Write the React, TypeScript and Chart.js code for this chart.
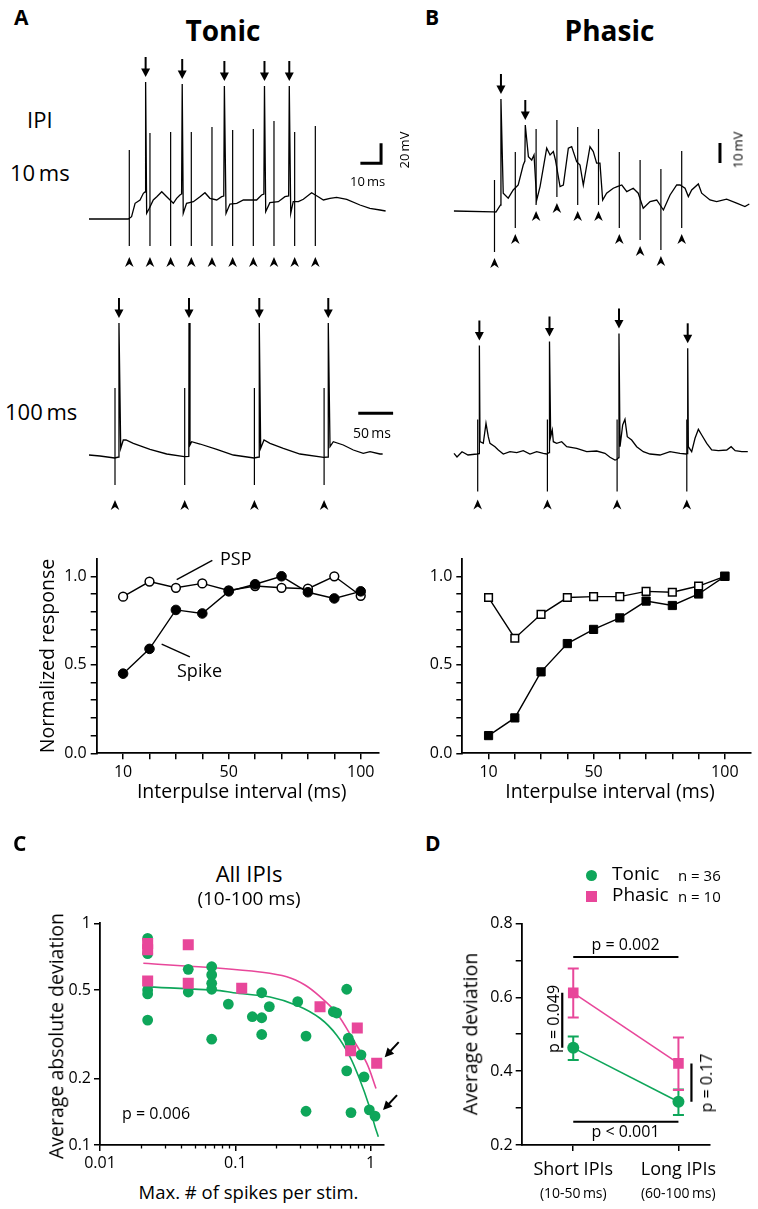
import React, { useEffect, useRef } from 'react';
import { Chart, registerables } from 'chart.js';

Chart.register(...registerables);

const FONT = '"Open Sans", "Noto Sans", sans-serif';
Chart.defaults.font.family = FONT;
Chart.defaults.color = '#000';
const GREEN = '#0ea65a';
const PINK = '#e8479a';

// ---------------- Panel A / B : example traces ----------------
// [time (ms, from first stimulus), potential (mV, from rest)]
const tonic10Trace = [
  [-19.5, 0], [-0.5, 0], [1.1, 2.3], [2.8, 15.7], [5.2, 19], [6.8, 25.7], [7.6, 27],
  [8.4, 5.7], [9.7, 10.7], [11.6, 19], [13.3, 22.3], [15.7, 27.3], [18.1, 22.3], [21.3, 15.7],
  [22.9, 20.7], [24.5, 24], [25.3, 25], [26.1, 5.7], [27.7, 15.7], [31, 17.3], [34.2, 22.3],
  [36.6, 26.3], [39, 20.7], [42.3, 19], [44.7, 22.3], [45.7, 23], [46.8, 5.7], [48.7, 15],
  [52, 15.7], [55.2, 19], [58, 19], [61.6, 19], [64, 24], [65.1, 25], [66, 7.3], [68, 16.3],
  [72.1, 17.3], [75.3, 22.3], [77.1, 23], [78.1, 5.7], [79.3, 17.3], [81.8, 17.3], [84.2, 19.7],
  [88.2, 26.3], [91.4, 22.3], [93.9, 19], [97.1, 20.7], [100.3, 21.7], [105.2, 19.7],
  [111.6, 14], [116.4, 10.7], [121.3, 9], [124, 8],
];
const tonic10Stim = [0, 10, 20, 30, 40, 50, 60, 70, 80, 90];
const tonic10ArtTop = [69, 86, 87, 87, 92, 89, 90, 98, 87, 93];
const tonic10ArtBottom = [-27, -27, -27, -27, -27, -27, -27, -27, -27, -27];
const tonic10SpikeT = [7.9, 25.6, 46.0, 65.4, 77.4];
const tonic10SpikePeak = [137, 135, 133, 133, 133];

const phasic10Trace = [
  [-19.5, 0], [-0.6, -0.4], [0.7, -0.5], [2.9, 3], [4.2, 8.9], [6.6, 6.4], [9, 10.5],
  [11.4, 13], [13.8, 23], [14.6, 25], [16.3, 27.2], [17.9, 25.5], [19, 28], [20.3, 5.5],
  [21.9, 12.2], [25.1, 31.4], [26.7, 28], [28.3, 29.7], [29.3, 25.5], [31.5, 12.2], [33.1, 13],
  [35.5, 31.4], [37.1, 32.2], [39.5, 24.7], [41.1, 23], [42.7, 13], [45.9, 32.2], [47.5, 29.7],
  [49.1, 23.9], [50.7, 23.9], [52, 5.5], [53.9, 8.9], [57.1, 11.4], [59, 12.2], [61.2, 13],
  [63.6, 9.7], [66.7, 11.4], [69.1, 8.9], [71.5, 1.4], [74.8, 4.7], [78, 5.5], [81.2, 0.5],
  [84.4, 8], [87.6, 13], [89.2, 13], [91.6, 11.4], [93.2, 7.2], [94.8, 10.5], [98, 13.5],
  [99.6, 8.9], [103.6, 5.5], [106.8, 4.7], [111.6, 5.9], [116.4, 3.9], [120.4, 2.2], [122.5, 3.5],
];
const phasic10Stim = [0, 10, 20, 30, 40, 50, 60, 70, 80, 90];
const phasic10ArtTop = [15.5, 29.5, 41, 45.5, 42, 41, 29.5, 25.5, 21, 30];
const phasic10ArtBottom = [-20.5, -8.5, 3, 7, 3, 3, -8.5, -14.5, -19.5, -8.5];
const phasic10SpikeT = [3.1, 14.8];
const phasic10SpikePeak = [56, 43];

const tonic100Trace = [
  [-37.3, 3], [-21.5, 2], [-0.5, 0], [5.4, 1], [8.2, 9.7], [11.9, 18], [15.8, 18], [26.3, 14.7],
  [50.2, 8.7], [74.2, 4], [99.4, 1.3], [105.9, 1.5], [107.6, 13], [110, 16.3], [122, 14],
  [146, 8.7], [169.7, 3], [199.5, 0], [206.7, 1], [209, 9.7], [213.8, 18], [222.4, 14.7],
  [241.5, 9.7], [265.4, 4], [299.5, 0.7], [305.7, 1], [308.5, 11.3], [313.2, 16.3], [327.5, 13],
  [341.9, 8], [356.2, 4.7], [365.9, 6.3], [380.2, 4], [384, 4],
];
const tonic100Stim = [0, 100, 200, 300];
const tonic100ArtTop = [70, 70, 70, 70];
const tonic100ArtBottom = [-27, -27, -27, -27];
const tonic100SpikeT = [5.7, 106.2, 207, 306];
const tonic100SpikePeak = [135, 135, 135, 135];

const phasic100Trace = [
  [-34, 0.1], [-29.7, -1.75], [-22.5, 0.9], [-13.9, -0.75], [-1, -0.25], [2.2, 0], [3.3, 5.9],
  [8, 5.1], [11.9, 15.1], [15.2, 8.4], [17.6, 5.1], [24.8, 3.4], [29.6, 1.75], [36.7, -0.25],
  [46.3, 0.9], [56, 0.4], [65.4, 1.4], [75, -0.25], [84.6, 0.9], [94.1, 0.1], [99, -0.25],
  [102.8, 0.5], [104.7, 8.4], [107, 11.75], [108.5, 5.9], [113.3, 5.1], [120.5, 5.9],
  [127.7, 3.4], [142, 2.6], [156.4, 0.9], [170.7, 1.25], [182.6, 0.1], [189.8, -1.9],
  [197, -3.25], [199.5, -3], [202.5, -2], [204.2, 3.4], [208, 14.25], [211.3, 17.1],
  [214.6, 8.4], [220.9, 6.75], [228.1, 3.4], [237.6, 0.9], [247.2, -0.25], [261.5, -0.75],
  [275.9, 0.9], [290.2, 0.1], [299, -0.25], [301.1, 0], [302.2, 3.4], [307, 0.9], [311.8, 7.6],
  [316.6, 12.1], [321.4, 9.25], [328.6, 5.1], [335.7, 1.75], [345.3, 1.4], [357.3, 1.75],
  [363.6, 3.4], [369.4, 1.4], [378.9, 0.9], [387.5, 0.9],
];
const phasic100Stim = [0, 100, 200, 300];
const phasic100ArtTop = [17, 17, 17, 17];
const phasic100ArtBottom = [-19, -19, -19, -19];
const phasic100SpikeT = [2.4, 103, 202.7, 301.3];
const phasic100SpikePeak = [54, 56, 60, 52.6];

// ---------------- Normalized response vs interpulse interval ----------------
const ipi = [10, 20, 30, 40, 50, 60, 70, 80, 90, 100];
const ipiTicks = [10, 20, 30, 40, 50, 60, 70, 80, 90, 100];
const ipiLabels = [10, 50, 100];
const tonicSpike = [0.45, 0.59, 0.81, 0.79, 0.915, 0.955, 1.0, 0.91, 0.875, 0.915];
const tonicPSP = [0.885, 0.97, 0.935, 0.96, 0.92, 0.945, 0.935, 0.93, 1.0, 0.89];
const phasicSpike = [0.1, 0.2, 0.46, 0.62, 0.7, 0.765, 0.86, 0.835, 0.9, 1.0];
const phasicPSP = [0.88, 0.65, 0.785, 0.88, 0.885, 0.885, 0.915, 0.91, 0.945, 1.0];
const normTicks = [0, 0.1, 0.2, 0.3, 0.4, 0.5, 0.6, 0.7, 0.8, 0.9, 1.0];
const normLabels = [0, 0.5, 1.0];

// ---------------- Panel C ----------------
const tonicMaxSpikes = [
  0.0225, 0.0225, 0.0225, 0.0225, 0.0225, 0.0449, 0.0449, 0.0669, 0.0669, 0.0669, 0.0669, 0.0669,
  0.0888, 0.1336, 0.1567, 0.1567, 0.1567, 0.1784, 0.2892, 0.3331, 0.3331, 0.53, 0.5616,
  0.6658, 0.684, 0.704, 0.6658, 0.716, 0.849, 0.894, 0.978, 1.078,
];
const tonicAvgDev = [
  0.855, 0.73, 0.5, 0.48, 0.366, 0.62, 0.49, 0.637, 0.585, 0.536, 0.504, 0.3,
  0.432, 0.379, 0.486, 0.375, 0.315, 0.421, 0.443, 0.31, 0.142, 0.399, 0.394,
  0.504, 0.303, 0.29, 0.216, 0.14, 0.255, 0.203, 0.144, 0.135,
];
const phasicMaxSpikes = [0.0225, 0.0225, 0.0225, 0.0449, 0.0449, 0.1115, 0.4227, 0.797, 0.712, 1.109];
const phasicAvgDev = [0.81, 0.76, 0.549, 0.8, 0.536, 0.509, 0.42, 0.337, 0.266, 0.234];
const tonicFitX = [0.0209, 0.077, 0.0966, 0.1806, 0.292, 0.4227, 0.5616, 0.704, 0.835, 0.962, 1.078, 1.14];
const tonicFitY = [0.518, 0.497, 0.486, 0.465, 0.424, 0.373, 0.313, 0.25, 0.196, 0.154, 0.121, 0.109];
const phasicFitX = [0.0209, 0.077, 0.152, 0.24, 0.327, 0.4227, 0.5616, 0.745, 0.936, 1.096];
const phasicFitY = [0.66, 0.627, 0.603, 0.574, 0.527, 0.467, 0.393, 0.298, 0.234, 0.18];
const cXTicks = [0.01, 0.1, 1];
const cYTicks = [0.1, 0.2, 0.5, 1];
const cMinorX = [0.02, 0.03, 0.04, 0.05, 0.06, 0.07, 0.08, 0.09, 0.2, 0.3, 0.4, 0.5, 0.6, 0.7, 0.8, 0.9];

// ---------------- Panel D ----------------
const dCats = ['Short IPIs', 'Long IPIs'];
const dSub = ['(10-50\u2009ms)', '(60-100\u2009ms)'];
const dTonicMean = [0.463, 0.317];
const dTonicLo = [0.43, 0.281];
const dTonicHi = [0.494, 0.35];
const dPhasicMean = [0.612, 0.421];
const dPhasicLo = [0.545, 0.349];
const dPhasicHi = [0.678, 0.491];
const dYTicks = [0.2, 0.3, 0.4, 0.5, 0.6, 0.7, 0.8];

// ---------------- helpers ----------------
const baseOpts = {
  animation: false,
  responsive: false,
  devicePixelRatio: 1,
  events: [],
  plugins: { legend: { display: false }, tooltip: { enabled: false }, title: { display: false } },
};
const gridOpt = { drawOnChartArea: false, drawTicks: true, tickLength: 6, color: '#000', lineWidth: 1.5 };
const borderOpt = { display: true, color: '#000', width: 1.8 };
const near = (a: number, b: number) => Math.abs(a - b) < 1e-6;

function drawDownArrow(ctx: CanvasRenderingContext2D, px: number, tip: number) {
  ctx.lineWidth = 2;
  ctx.beginPath();
  ctx.moveTo(px, tip - 20);
  ctx.lineTo(px, tip - 6);
  ctx.stroke();
  ctx.beginPath();
  ctx.moveTo(px - 4.5, tip - 8.5);
  ctx.lineTo(px + 4.5, tip - 8.5);
  ctx.lineTo(px, tip);
  ctx.closePath();
  ctx.fill();
}

function drawArrow(ctx: CanvasRenderingContext2D, x0: number, y0: number, x1: number, y1: number) {
  const dx = x1 - x0, dy = y1 - y0;
  const L = Math.hypot(dx, dy);
  const ux = dx / L, uy = dy / L;
  ctx.lineWidth = 2;
  ctx.beginPath();
  ctx.moveTo(x0, y0);
  ctx.lineTo(x1 - ux * 6, y1 - uy * 6);
  ctx.stroke();
  ctx.beginPath();
  ctx.moveTo(x1, y1);
  ctx.lineTo(x1 - ux * 9 - uy * 4.5, y1 - uy * 9 + ux * 4.5);
  ctx.lineTo(x1 - ux * 9 + uy * 4.5, y1 - uy * 9 - ux * 4.5);
  ctx.closePath();
  ctx.fill();
}

type Bar = { t: number; v: number; dt: number; dv: number } | null;

function makeTraceConfig(
  trace: number[][], stim: number[], artTop: number[], artBottom: number[],
  spikeT: number[], spikePeak: number[], xr: number[], yr: number[], headGap: number, bar: Bar,
) {
  const pts = trace
    .map(([x, y]) => ({ x, y }))
    .concat(spikeT.map((t, i) => ({ x: t, y: spikePeak[i] })))
    .sort((a, b) => a.x - b.x);
  const art: { x: number; y: number | null }[] = [];
  stim.forEach((t, i) => {
    art.push({ x: t, y: artTop[i] }, { x: t, y: artBottom[i] }, { x: t, y: null });
  });
  const plugin = {
    id: 'traceMarks',
    afterDatasetsDraw(chart: any) {
      const ctx: CanvasRenderingContext2D = chart.ctx;
      const xs = chart.scales.x, ys = chart.scales.y;
      ctx.save();
      ctx.fillStyle = '#000';
      ctx.strokeStyle = '#000';
      spikeT.forEach((t, i) => {
        drawDownArrow(ctx, xs.getPixelForValue(t), ys.getPixelForValue(spikePeak[i]) - 5);
      });
      stim.forEach((t, i) => {
        const px = xs.getPixelForValue(t);
        const top = ys.getPixelForValue(artBottom[i]) + headGap;
        ctx.beginPath();
        ctx.moveTo(px, top);
        ctx.lineTo(px + 4.3, top + 10);
        ctx.lineTo(px, top + 7);
        ctx.lineTo(px - 4.3, top + 10);
        ctx.closePath();
        ctx.fill();
      });
      if (bar) {
        ctx.lineWidth = 3;
        ctx.lineJoin = 'miter';
        ctx.beginPath();
        const cx = xs.getPixelForValue(bar.t), cy = ys.getPixelForValue(bar.v);
        if (bar.dt) { ctx.moveTo(xs.getPixelForValue(bar.t - bar.dt), cy); ctx.lineTo(cx, cy); }
        else ctx.moveTo(cx, cy);
        if (bar.dv) ctx.lineTo(cx, ys.getPixelForValue(bar.v + bar.dv));
        ctx.stroke();
      }
      ctx.restore();
    },
  };
  return {
    type: 'line',
    data: {
      datasets: [
        { data: pts, borderColor: '#000', borderWidth: 1.3, pointRadius: 0, tension: 0 },
        { data: art, borderColor: '#000', borderWidth: 1.2, pointRadius: 0, tension: 0, spanGaps: false },
      ],
    },
    options: {
      ...baseOpts,
      layout: { padding: 0 },
      scales: {
        x: { type: 'linear', display: false, min: xr[0], max: xr[1] },
        y: { type: 'linear', display: false, min: yr[0], max: yr[1] },
      },
    },
    plugins: [plugin],
  };
}

function makeNormConfig(
  spike: number[], psp: number[], square: boolean, xmax: number,
  pad: any, yW: number, xH: number, leaders: number[][] | null,
) {
  const style = square ? 'rect' : 'circle';
  const plugins: any[] = [];
  if (leaders) {
    plugins.push({
      id: 'leaders',
      afterDatasetsDraw(chart: any) {
        const ctx: CanvasRenderingContext2D = chart.ctx;
        const xs = chart.scales.x, ys = chart.scales.y;
        ctx.save();
        ctx.strokeStyle = '#000';
        ctx.lineWidth = 1.4;
        leaders.forEach(([a, b, c, d]) => {
          ctx.beginPath();
          ctx.moveTo(xs.getPixelForValue(a), ys.getPixelForValue(b));
          ctx.lineTo(xs.getPixelForValue(c), ys.getPixelForValue(d));
          ctx.stroke();
        });
        ctx.restore();
      },
    });
  }
  return {
    type: 'line',
    data: {
      datasets: [
        {
          data: ipi.map((x, i) => ({ x, y: spike[i] })), borderColor: '#000', borderWidth: 1.4,
          pointStyle: style, pointRadius: square ? 5.8 : 4.8, pointBackgroundColor: '#000',
          pointBorderColor: '#000', pointBorderWidth: 1, tension: 0,
        },
        {
          data: ipi.map((x, i) => ({ x, y: psp[i] })), borderColor: '#000', borderWidth: 1.4,
          pointStyle: style, pointRadius: square ? 5.4 : 4.4, pointBackgroundColor: '#fff',
          pointBorderColor: '#000', pointBorderWidth: 1.5, tension: 0,
        },
      ],
    },
    options: {
      ...baseOpts,
      layout: { padding: pad },
      scales: {
        x: {
          type: 'linear', min: 0, max: xmax,
          afterFit: (s: any) => { s.height = xH; },
          afterBuildTicks: (s: any) => { s.ticks = ipiTicks.map((v) => ({ value: v })); },
          ticks: {
            font: { family: FONT, size: 16 }, color: '#000', padding: 4, maxRotation: 0, autoSkip: false,
            callback: (v: number) => (ipiLabels.some((l) => near(l, v)) ? String(v) : ''),
          },
          grid: gridOpt, border: borderOpt,
        },
        y: {
          type: 'linear', min: 0, max: 1.1,
          afterFit: (s: any) => { s.width = yW; },
          afterBuildTicks: (s: any) => { s.ticks = normTicks.map((v) => ({ value: v })); },
          ticks: {
            font: { family: FONT, size: 16 }, color: '#000', padding: 4, autoSkip: false,
            callback: (v: number) => (normLabels.some((l) => near(l, v)) ? v.toFixed(1) : ''),
          },
          grid: gridOpt, border: borderOpt,
        },
      },
    },
    plugins,
  };
}

function makeCConfig() {
  const plugin = {
    id: 'cMarks',
    afterDraw(chart: any) {
      const ctx: CanvasRenderingContext2D = chart.ctx;
      const xs = chart.scales.x, ys = chart.scales.y;
      ctx.save();
      ctx.strokeStyle = '#000';
      ctx.fillStyle = '#000';
      ctx.lineWidth = 1.3;
      const yb = chart.chartArea.bottom;
      cMinorX.forEach((v) => {
        const px = Math.round(xs.getPixelForValue(v)) + 0.5;
        ctx.beginPath();
        ctx.moveTo(px, yb);
        ctx.lineTo(px, yb + 3.5);
        ctx.stroke();
      });
      const targets = [
        [phasicMaxSpikes[phasicMaxSpikes.length - 1], phasicAvgDev[phasicAvgDev.length - 1]],
        [tonicMaxSpikes[tonicMaxSpikes.length - 1], tonicAvgDev[tonicAvgDev.length - 1]],
      ];
      targets.forEach(([vx, vy]) => {
        const px = xs.getPixelForValue(vx), py = ys.getPixelForValue(vy);
        drawArrow(ctx, px + 22, py - 21, px + 8, py - 6);
      });
      ctx.restore();
    },
  };
  return {
    type: 'scatter',
    data: {
      datasets: [
        {
          data: phasicMaxSpikes.map((x, i) => ({ x, y: phasicAvgDev[i] })),
          pointStyle: 'rect', pointRadius: 7.8, backgroundColor: PINK, borderColor: PINK, pointBorderWidth: 0,
        },
        {
          data: tonicMaxSpikes.map((x, i) => ({ x, y: tonicAvgDev[i] })),
          pointStyle: 'circle', pointRadius: 5.4, backgroundColor: GREEN, borderColor: GREEN, pointBorderWidth: 0,
        },
        {
          data: phasicFitX.map((x, i) => ({ x, y: phasicFitY[i] })), showLine: true, pointRadius: 0,
          borderColor: PINK, borderWidth: 1.6, tension: 0.35,
        },
        {
          data: tonicFitX.map((x, i) => ({ x, y: tonicFitY[i] })), showLine: true, pointRadius: 0,
          borderColor: GREEN, borderWidth: 1.6, tension: 0.35,
        },
      ],
    },
    options: {
      ...baseOpts,
      layout: { padding: { top: 18.3, right: 26.5, left: 0, bottom: 0 } },
      scales: {
        x: {
          type: 'logarithmic', min: 0.01, max: 1.245,
          afterFit: (s: any) => { s.height = 30; },
          afterBuildTicks: (s: any) => { s.ticks = cXTicks.map((v) => ({ value: v })); },
          ticks: { font: { family: FONT, size: 16 }, color: '#000', padding: 3, maxRotation: 0, autoSkip: false, callback: (v: number) => String(v) },
          grid: { ...gridOpt, tickLength: 6 }, border: borderOpt,
        },
        y: {
          type: 'logarithmic', min: 0.1, max: 1,
          afterFit: (s: any) => { s.width = 70; },
          afterBuildTicks: (s: any) => { s.ticks = cYTicks.map((v) => ({ value: v })); },
          ticks: { font: { family: FONT, size: 16 }, color: '#000', padding: 3, autoSkip: false, callback: (v: number) => String(v) },
          grid: gridOpt, border: borderOpt,
        },
      },
    },
    plugins: [plugin],
  };
}

function makeDConfig() {
  const plugin = {
    id: 'dMarks',
    beforeDatasetsDraw(chart: any) {
      const ctx: CanvasRenderingContext2D = chart.ctx;
      const xs = chart.scales.x, ys = chart.scales.y;
      ctx.save();
      const series: [number[], number[], string][] = [
        [dTonicLo, dTonicHi, GREEN],
        [dPhasicLo, dPhasicHi, PINK],
      ];
      series.forEach(([lo, hi, col]) => {
        ctx.strokeStyle = col;
        ctx.lineWidth = 2;
        lo.forEach((l, i) => {
          const px = xs.getPixelForValue(i);
          const y0 = ys.getPixelForValue(l), y1 = ys.getPixelForValue(hi[i]);
          ctx.beginPath();
          ctx.moveTo(px, y0); ctx.lineTo(px, y1);
          ctx.moveTo(px - 5.5, y0); ctx.lineTo(px + 5.5, y0);
          ctx.moveTo(px - 5.5, y1); ctx.lineTo(px + 5.5, y1);
          ctx.stroke();
        });
      });
      // significance bars
      ctx.strokeStyle = '#000';
      ctx.lineWidth = 2.2;
      const x0 = xs.getPixelForValue(0), x1 = xs.getPixelForValue(1);
      ctx.beginPath();
      ctx.moveTo(x0, ys.getPixelForValue(0.709)); ctx.lineTo(x1, ys.getPixelForValue(0.709));
      ctx.moveTo(x0, ys.getPixelForValue(0.263)); ctx.lineTo(x1, ys.getPixelForValue(0.263));
      ctx.moveTo(x0 - 11, ys.getPixelForValue(dPhasicMean[0])); ctx.lineTo(x0 - 11, ys.getPixelForValue(dTonicMean[0]));
      ctx.moveTo(x1 + 13, ys.getPixelForValue(dPhasicMean[1])); ctx.lineTo(x1 + 13, ys.getPixelForValue(dTonicMean[1]));
      ctx.stroke();
      ctx.restore();
    },
  };
  return {
    type: 'line',
    data: {
      datasets: [
        {
          data: dPhasicMean.map((y, i) => ({ x: i, y })), borderColor: PINK, borderWidth: 1.6,
          pointStyle: 'rect', pointRadius: 7.5, pointBackgroundColor: PINK, pointBorderWidth: 0, tension: 0,
        },
        {
          data: dTonicMean.map((y, i) => ({ x: i, y })), borderColor: GREEN, borderWidth: 1.6,
          pointStyle: 'circle', pointRadius: 6, pointBackgroundColor: GREEN, pointBorderWidth: 0, tension: 0,
        },
      ],
    },
    options: {
      ...baseOpts,
      layout: { padding: { top: 18.4, right: 48, left: 0, bottom: 0 } },
      scales: {
        x: {
          type: 'linear', min: -0.49, max: 1.3,
          afterFit: (s: any) => { s.height = 60; },
          afterBuildTicks: (s: any) => { s.ticks = dCats.map((_, i) => ({ value: i })); },
          ticks: {
            font: { family: FONT, size: 18 }, color: '#000', padding: 8, maxRotation: 0, autoSkip: false,
            callback: (v: number) => dCats[Math.round(v)] ?? '',
          },
          grid: gridOpt, border: borderOpt,
        },
        y: {
          type: 'linear', min: 0.2, max: 0.8,
          afterFit: (s: any) => { s.width = 41.7; },
          afterBuildTicks: (s: any) => { s.ticks = dYTicks.map((v) => ({ value: v })); },
          ticks: {
            font: { family: FONT, size: 16 }, color: '#000', padding: 3, autoSkip: false,
            callback: (v: number) => (Math.round(v * 10) % 2 === 0 ? v.toFixed(1) : ''),
          },
          grid: gridOpt, border: borderOpt,
        },
      },
    },
    plugins: [plugin],
  };
}

function ChartBox({ left, top, width, height, make }: { left: number; top: number; width: number; height: number; make: () => any }) {
  const ref = useRef<HTMLCanvasElement>(null);
  useEffect(() => {
    const chart = new Chart(ref.current as HTMLCanvasElement, make());
    return () => chart.destroy();
  }, []);
  return (
    <canvas
      ref={ref}
      width={width}
      height={height}
      style={{ position: 'absolute', left, top, width, height }}
    />
  );
}

function Txt({ x, y, s, b, m, r, children }: { x: number; y: number; s: number; b?: boolean; m?: boolean; r?: boolean; children: React.ReactNode }) {
  const style: React.CSSProperties = {
    position: 'absolute', fontSize: s, lineHeight: `${s}px`, fontWeight: b ? 700 : 400,
    whiteSpace: 'nowrap', color: '#000', fontFamily: FONT,
  };
  if (r) {
    style.left = x; style.top = y; style.transform = 'translate(-50%,-50%) rotate(-90deg)';
  } else {
    style.left = x; style.top = y - 0.888 * s;
    if (m) style.transform = 'translateX(-50%)';
  }
  return <div style={style}>{children}</div>;
}

export default function App() {
  return (
    <div style={{ position: 'absolute', left: 0, top: 0, width: 758, height: 1209, background: '#fff', overflow: 'hidden', fontFamily: FONT }}>
      <ChartBox left={85} top={50} width={335} height={225}
        make={() => makeTraceConfig(tonic10Trace, tonic10Stim, tonic10ArtTop, tonic10ArtBottom, tonic10SpikeT, tonic10SpikePeak,
          [-21.43, 140.64], [-56, 169], 11, { t: 121.8, v: 55.7, dt: 10, dv: 20 })} />
      <ChartBox left={440} top={50} width={318} height={225}
        make={() => makeTraceConfig(phasic10Trace, phasic10Stim, phasic10ArtTop, phasic10ArtBottom, phasic10SpikeT, phasic10SpikePeak,
          [-26.2, 126.68], [-32, 80.5], 6, { t: 108.4, v: 24, dt: 0, dv: 10 })} />
      <ChartBox left={85} top={285} width={335} height={225}
        make={() => makeTraceConfig(tonic100Trace, tonic100Stim, tonic100ArtTop, tonic100ArtBottom, tonic100SpikeT, tonic100SpikePeak,
          [-43.04, 437.59], [-52, 173], 15, { t: 399, v: 44.7, dt: 50, dv: 0 })} />
      <ChartBox left={440} top={285} width={318} height={225}
        make={() => makeTraceConfig(phasic100Trace, phasic100Stim, phasic100ArtTop, phasic100ArtBottom, phasic100SpikeT, phasic100SpikePeak,
          [-54.09, 402.15], [-28.25, 84.25], 8, null)} />
      <ChartBox left={30} top={545} width={365} height={245}
        make={() => makeNormConfig(tonicSpike, tonicPSP, false, 107, { top: 13, right: 15.8, left: 0, bottom: 0 }, 66.7, 36.7,
          [[30.3, 0.981, 43.8, 1.09], [24.6, 0.617, 35.3, 0.545]])} />
      <ChartBox left={400} top={545} width={358} height={245}
        make={() => makeNormConfig(phasicSpike, phasicPSP, true, 110, { top: 13.4, right: 4.7, left: 0, bottom: 0 }, 62.3, 36.7, null)} />
      <ChartBox left={30} top={905} width={380} height={270} make={makeCConfig} />
      <ChartBox left={480} top={905} width={278} height={300} make={makeDConfig} />

      {/* panel letters and titles */}
      <Txt x={14} y={25.5} s={21} b>A</Txt>
      <Txt x={425} y={25.5} s={21} b>B</Txt>
      <Txt x={223} y={41} s={28} b m>Tonic</Txt>
      <Txt x={609.5} y={41} s={28} b m>Phasic</Txt>
      <Txt x={27} y={128} s={22}>IPI</Txt>
      <Txt x={10} y={181} s={22}>10{'\u2009'}ms</Txt>
      <Txt x={5} y={420} s={22}>100{'\u2009'}ms</Txt>
      <Txt x={350} y={187} s={13}>10{'\u2009'}ms</Txt>
      <Txt x={404} y={150} s={13} r>20{'\u2009'}mV</Txt>
      <Txt x={738} y={150} s={13} r>10{'\u2009'}mV</Txt>
      <Txt x={353} y={438} s={14}>50{'\u2009'}ms</Txt>

      {/* normalized response */}
      <Txt x={47} y={656} s={19.5} r>Normalized response</Txt>
      <Txt x={241.7} y={798} s={19.5} m>Interpulse interval (ms)</Txt>
      <Txt x={610} y={798} s={19.5} m>Interpulse interval (ms)</Txt>
      <Txt x={220} y={565} s={18}>PSP</Txt>
      <Txt x={177} y={677} s={18}>Spike</Txt>

      {/* panel C */}
      <Txt x={13} y={852} s={21} b>C</Txt>
      <Txt x={249} y={882} s={22} m>All IPIs</Txt>
      <Txt x={249} y={906} s={19} m>(10-100 ms)</Txt>
      <Txt x={56} y={1036} s={19.5} r>Average absolute deviation</Txt>
      <Txt x={248.5} y={1199} s={18.5} m>Max. # of spikes per stim.</Txt>
      <Txt x={122} y={1119} s={16}>p = 0.006</Txt>

      {/* panel D */}
      <Txt x={425} y={852} s={21} b>D</Txt>
      <div style={{ position: 'absolute', left: 585.5, top: 869.5, width: 11, height: 11, borderRadius: '50%', background: GREEN }} />
      <div style={{ position: 'absolute', left: 585.5, top: 890.5, width: 11, height: 11, background: PINK }} />
      <Txt x={612} y={881} s={19}>Tonic</Txt>
      <Txt x={678} y={881} s={15}>n = 36</Txt>
      <Txt x={612} y={902} s={19}>Phasic</Txt>
      <Txt x={678} y={902} s={15}>n = 10</Txt>
      <Txt x={470} y={1034} s={19.5} r>Average deviation</Txt>
      <Txt x={573.3} y={1198} s={14} m>{dSub[0]}</Txt>
      <Txt x={678.3} y={1198} s={14} m>{dSub[1]}</Txt>
      <Txt x={625.5} y={950} s={16} m>p = 0.002</Txt>
      <Txt x={625.5} y={1137} s={16} m>p &lt; 0.001</Txt>
      <Txt x={553} y={1019} s={16} r>p = 0.049</Txt>
      <Txt x={705.5} y={1083} s={16} r>p = 0.17</Txt>
    </div>
  );
}
